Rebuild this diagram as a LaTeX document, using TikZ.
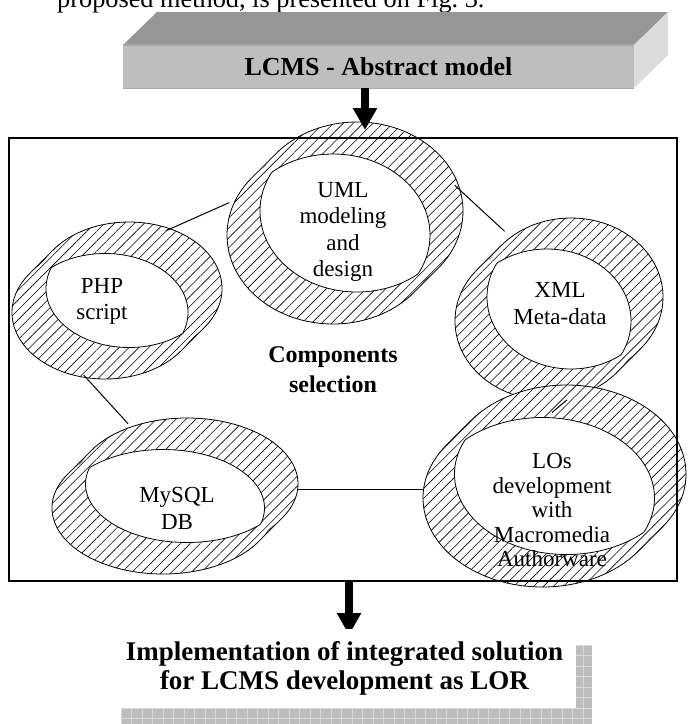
\documentclass[tikz,border=0pt]{standalone}
\usepackage{fontspec}
\setmainfont{Liberation Serif}
\usetikzlibrary{arrows.meta,patterns.meta,shapes.geometric}
\definecolor{boxtop}{HTML}{969696}
\definecolor{boxfront}{HTML}{BEBEBE}
\definecolor{boxside}{HTML}{DCDCDC}
\definecolor{boxedge}{HTML}{A8A8A8}
\definecolor{gridfill}{HTML}{BDBDBD}
\definecolor{gridline}{HTML}{D8D8D8}

\tikzset{
  ringtext/.style={font=\fontsize{23}{26.5}\selectfont, align=center, inner sep=0pt},
  boldtext/.style={font=\fontsize{24}{30}\selectfont\bfseries, align=center, inner sep=0pt},
  ringnode/.style={ellipse, inner sep=0pt},
  link/.style={line width=1pt},
  bigarrow/.style={line width=8pt, -{Triangle[width=23pt,length=22pt]}},
  sparse/.style={pattern={Lines[angle=45,distance=7pt,line width=0.6pt]}},
  dense/.style={pattern={Lines[angle=45,distance=2.2pt,line width=0.6pt]}},
}

% #1 name, #2 #3 centre of lower-left ellipse, #4 #5 outer radii,
% #6 #7 inner radii, #8 shift up-right
\newcommand\hatchring[8]{%
  \pgfmathsetmacro\ringang{atan(#5/#4)}%
  \def\ringhull{(#2,#3) ++({#4*cos(180+\ringang)},{#5*sin(180+\ringang)})
    arc[start angle=180+\ringang, end angle=\ringang, x radius=#4, y radius=#5]
    -- ++(#8,-#8)
    arc[start angle=\ringang, end angle=\ringang-180, x radius=#4, y radius=#5] -- cycle}%
  \fill[white] \ringhull;
  \fill[dense] \ringhull;
  \fill[white] (#2,#3) ellipse[x radius=#4, y radius=#5] ({#2+#8},{#3-#8}) ellipse[x radius=#4, y radius=#5];
  \fill[sparse] (#2,#3) ellipse[x radius=#4, y radius=#5] ({#2+#8},{#3-#8}) ellipse[x radius=#4, y radius=#5];
  \begin{scope}
    \clip (#2,#3) ellipse[x radius=#6, y radius=#7];
    \fill[white] ({#2+#8},{#3-#8}) ellipse[x radius=#6, y radius=#7];
    \draw[line width=0.8pt] ({#2+#8},{#3-#8}) ellipse[x radius=#6, y radius=#7];
  \end{scope}
  \begin{scope}
    \clip ({#2+#8},{#3-#8}) ellipse[x radius=#6, y radius=#7];
    \draw[line width=0.8pt] (#2,#3) ellipse[x radius=#6, y radius=#7];
  \end{scope}
  \draw[line width=0.8pt] \ringhull;
  \node[ringnode, minimum width={2*#4+#8}, minimum height={2*#5+#8}] (#1) at ({#2+#8/2},{#3-#8/2}) {};
}

\begin{document}
\begin{tikzpicture}[x=1pt,y=-1pt]
  \useasboundingbox (0,0) rectangle (688,724);
  \clip (0,0) rectangle (688,724);

  % line of the page above, cut by the top edge
  \node[anchor=base west, inner sep=0pt, font=\fontsize{26.3}{30}\selectfont] (prevline) at (57,7) {proposed method, is presented on Fig.~3.};

  % 3d box on top
  \fill[boxtop] (123,45) -- (157,12) -- (668,12) -- (634,45) -- cycle;
  \fill[boxside] (634,45) -- (668,12) -- (668,55) -- (634,88) -- cycle;
  \node[fill=boxfront, minimum width=511pt, minimum height=43pt, inner sep=0pt,
        font=\fontsize{26}{30}\selectfont\bfseries] (abstract) at (378.5,66.5) {LCMS - Abstract model};
  \draw[boxedge, line width=1.5pt] (abstract.north west) -- (abstract.north east);
  \draw[boxedge, line width=1pt] (abstract.south west) -- (abstract.south east);

  % rings
  \hatchring{php}{105}{312.5}{93}{66.5}{83}{59}{24}
  \hatchring{uml}{333}{235}{106}{89}{97}{81}{24}
  \hatchring{xml}{547}{321}{92}{79}{84}{72}{24}
  \hatchring{mysql}{163}{508}{111}{66}{101.5}{58.5}{24}
  \hatchring{los}{542.5}{498}{119.5}{89}{112}{80.5}{24}

  \node[ringtext] (umltext) at (343,232) {UML\\modeling\\and\\design};
  \node[ringtext] (phptext) at (102,301.4) {PHP\\script};
  \node[ringtext] (xmltext) at (560,303.4) {XML\\Meta-data};
  \node[ringtext] (mysqltext) at (177,508.6) {MySQL\\DB};
  \node[ringtext, font=\fontsize{23}{24.5}\selectfont] (lostext) at (552,510.4) {LOs\\development\\with\\Macromedia\\Authorware};
  \node[boldtext] (compsel) at (333,369.5) {Components\\selection};

  % connectors
  \draw[link] (php.55) -- (uml.170);
  \draw[link] (uml.19) -- (xml.125);
  \draw[link] (php.246) -- (mysql.123);
  \draw[link] (mysql.3) -- (mysql.3 -| los.west);
  \draw[link] (xml.275) -- ([yshift=41pt]lostext.north);

  % frame
  \node[draw, line width=1.5pt, minimum width=668pt, minimum height=443pt, inner sep=0pt] (frame) at (343,359.5) {};

  % arrows
  \coordinate (toptip) at (365,130);
  \coordinate (bottip) at (349,635);
  \draw[bigarrow] (abstract.south -| toptip) -- (toptip);
  \draw[bigarrow] (frame.south -| bottip) -- (bottip);

  % result with grid shadow
  \fill[gridfill] (121,645) rectangle (592,730);
  \foreach \gx in {121,131.5,...,592}{\draw[gridline, line width=1pt] (\gx,645) -- (\gx,730);}
  \foreach \gy in {645,655.5,...,730}{\draw[gridline, line width=1pt] (121,\gy) -- (592,\gy);}
  \fill[white] (105,629) rectangle (576,708);
  \node[font=\fontsize{27}{29.5}\selectfont\bfseries, align=center, inner sep=0pt] (impl) at (344.5,668.3)
    {Implementation of integrated solution\\for LCMS development as LOR};
\end{tikzpicture}
\end{document}
